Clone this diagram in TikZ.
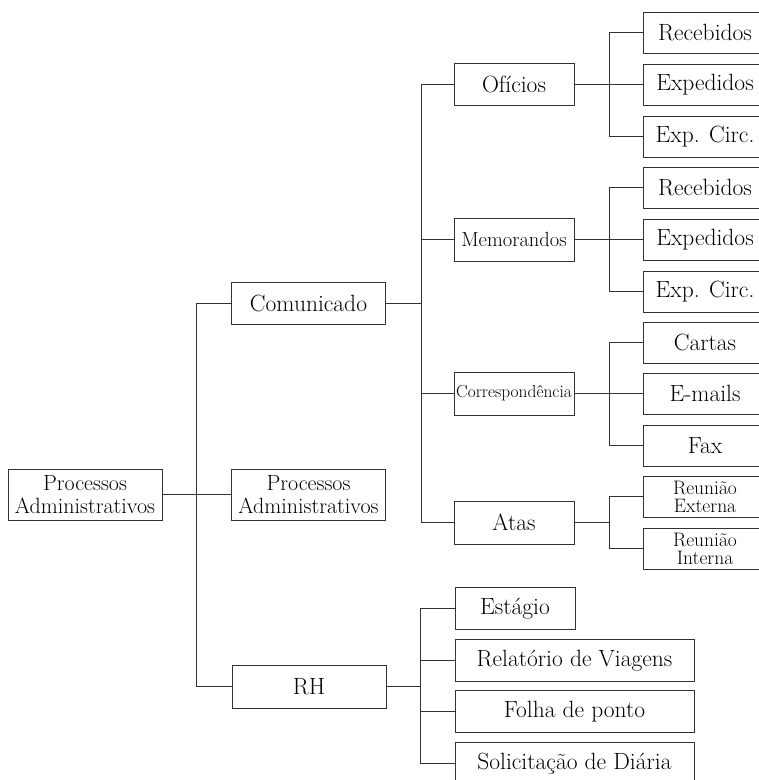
\documentclass[tikz,border=0pt]{standalone}
\usepackage{fontspec}
\setmainfont{Latin Modern Roman}
\begin{document}
\begin{tikzpicture}[x=1pt,y=-1pt,
  box/.style={draw=black!80,line width=1pt,rectangle,inner sep=0pt,align=center,text=black,font=\fontsize{23.5}{24}\selectfont},
  wA/.style={minimum width=154pt},
  wB/.style={minimum width=120pt},
  wC/.style={minimum width=124pt},
  wD/.style={minimum width=239pt},
  two/.style={font=\fontsize{22}{23}\selectfont},
  small/.style={font=\fontsize{19.5}{18}\selectfont},
  conn/.style={draw=black!80,line width=1pt}
]
\useasboundingbox (0,0) rectangle (759,780);
% level 1 and 2
\node[box,two,wA,minimum height=51pt] (root) at (85,494.5) {Processos\\Administrativos};
\node[box,two,wA,minimum height=51pt] (proc) at (308.5,494.5) {Processos\\Administrativos};
\node[box,wA,minimum height=42pt] (com) at (308.5,303.5) {Comunicado};
\node[box,wA,minimum height=43pt] (rh) at (309,686.5) {RH};
% level 3
\node[box,wB,minimum height=42pt] (ofi) at (514,84.5) {Ofícios};
\node[box,wB,minimum height=43pt,font=\fontsize{20.5}{22}\selectfont] (mem) at (514,239.5) {Memorandos};
\node[box,wB,minimum height=43pt,font=\fontsize{17.4}{19}\selectfont] (cor) at (514,393.5) {Correspondência};
\node[box,wB,minimum height=43pt] (atas) at (514,522.5) {Atas};
% level 4
\node[box,wC,minimum height=41pt] (o1) at (705,32.5) {Recebidos};
\node[box,wC,minimum height=41pt] (o2) at (705,84.5) {Expedidos};
\node[box,wC,minimum height=41pt] (o3) at (705,136.5) {Exp. Circ.};
\node[box,wC,minimum height=41pt] (m1) at (705,187.5) {Recebidos};
\node[box,wC,minimum height=41pt] (m2) at (705,239.5) {Expedidos};
\node[box,wC,minimum height=41pt] (m3) at (705,291.5) {Exp. Circ.};
\node[box,wC,minimum height=41pt] (c1) at (705,342.5) {Cartas};
\node[box,wC,minimum height=41pt] (c2) at (705,393.5) {E-mails};
\node[box,wC,minimum height=41pt] (c3) at (705,445.5) {Fax};
\node[box,small,wC,minimum height=41pt] (a1) at (705,496.5) {Reunião\\Externa};
\node[box,small,wC,minimum height=41pt] (a2) at (705,548.5) {Reunião\\Interna};
% RH children
\node[box,wB,minimum height=42pt] (r1) at (515,608.5) {Estágio};
\node[box,wD,minimum height=42pt] (r2) at (574.5,660.5) {Relatório de Viagens};
\node[box,wD,minimum height=42pt] (r3) at (574.5,711.5) {Folha de ponto};
\node[box,wD,minimum height=42pt] (r4) at (574.5,763.5) {Solicitação de Diária};
% junctions
\coordinate (j0) at (196.5,494.5);
\coordinate (jc) at (421.5,303.5);
\coordinate (jo) at (609.5,84.5);
\coordinate (jm) at (609.5,239.5);
\coordinate (jr) at (609.5,393.5);
\coordinate (ja) at (609.5,522.5);
\coordinate (jh) at (420.5,686.5);
% connectors
\draw[conn] (root.east) -- (j0) -- (proc.west);
\draw[conn] (j0) |- (com.west);
\draw[conn] (j0) |- (rh.west);
\draw[conn] (com.east) -- (jc);
\draw[conn] (jc) |- (ofi.west);
\draw[conn] (jc) |- (mem.west);
\draw[conn] (jc) |- (cor.west);
\draw[conn] (jc) |- (atas.west);
\draw[conn] (ofi.east) -- (jo) -- (o2.west);
\draw[conn] (jo) |- (o1.west);
\draw[conn] (jo) |- (o3.west);
\draw[conn] (mem.east) -- (jm) -- (m2.west);
\draw[conn] (jm) |- (m1.west);
\draw[conn] (jm) |- (m3.west);
\draw[conn] (cor.east) -- (jr) -- (c2.west);
\draw[conn] (jr) |- (c1.west);
\draw[conn] (jr) |- (c3.west);
\draw[conn] (atas.east) -- (ja);
\draw[conn] (ja) |- (a1.west);
\draw[conn] (ja) |- (a2.west);
\draw[conn] (rh.east) -- (jh);
\draw[conn] (jh) |- (r1.west);
\draw[conn] (jh) |- (r2.west);
\draw[conn] (jh) |- (r3.west);
\draw[conn] (jh) |- (r4.west);
\end{tikzpicture}
\end{document}
